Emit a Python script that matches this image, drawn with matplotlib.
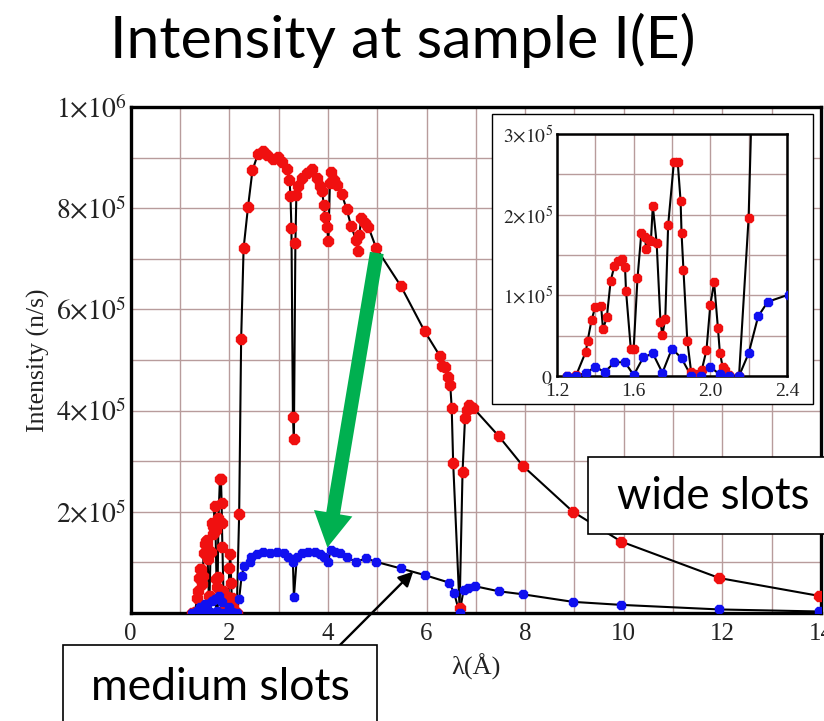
import numpy as np
import matplotlib
matplotlib.use("Agg")
import matplotlib.pyplot as plt
from matplotlib.patches import Rectangle, FancyArrowPatch, ArrowStyle
from matplotlib.ticker import FixedLocator, MultipleLocator, FuncFormatter

plt.rcParams["mathtext.fontset"] = "stix"

# Wavelength (Angstrom) and intensity (thousands of n/s) for the wide slots
wide_lambda = [1.25, 1.30, 1.35, 1.36, 1.38, 1.40, 1.43, 1.44, 1.46, 1.48, 1.50, 1.52, 1.54,
               1.555, 1.56, 1.585, 1.60, 1.62, 1.64, 1.66, 1.665, 1.68, 1.69, 1.70, 1.72,
               1.74, 1.75, 1.765, 1.78, 1.81, 1.83, 1.845, 1.85, 1.86, 1.88, 1.90, 1.93,
               1.955, 1.98, 2.00, 2.02, 2.04, 2.05, 2.065, 2.075, 2.10, 2.15, 2.20,
               2.24, 2.29, 2.38, 2.47, 2.58, 2.68, 2.76, 2.88, 2.98, 3.06, 3.18, 3.22,
               3.24, 3.26, 3.29, 3.31, 3.34, 3.36, 3.40, 3.47, 3.57, 3.68, 3.77, 3.84,
               3.88, 3.92, 3.94, 3.98, 4.01, 4.04, 4.06, 4.12, 4.19, 4.28, 4.38, 4.47,
               4.57, 4.60, 4.64, 4.67, 4.75, 4.82, 4.98, 5.48, 5.96, 6.27, 6.32, 6.38,
               6.43, 6.48, 6.51, 6.54, 6.67, 6.73, 6.78, 6.82, 6.87, 6.95, 7.46, 7.95,
               8.97, 9.95, 11.94, 13.95]
wide_kcounts = [0, 1, 30, 44, 69, 86, 87, 58, 73, 118, 137, 142, 145,
                135, 106, 34, 34, 121, 177, 172, 157, 169, 167, 211, 165,
                67, 51, 71, 187, 265, 265, 217, 177, 131, 44, 5, 3,
                7, 32, 88, 116, 59, 29, 11, 8, 1, 0, 196,
                541, 721, 803, 875, 907, 913, 905, 897, 902, 892, 877, 856,
                825, 760, 388, 344, 731, 827, 843, 860, 870, 877, 860, 843,
                833, 806, 783, 763, 735, 850, 872, 856, 846, 828, 798, 765,
                737, 716, 747, 780, 770, 763, 721, 646, 557, 508, 488, 487,
                467, 451, 406, 296, 10, 279, 385, 401, 412, 405, 350, 291,
                200, 141, 69, 34]

# Wavelength (Angstrom) and intensity (thousands of n/s) for the medium slots
medium_lambda = [1.25, 1.30, 1.35, 1.40, 1.45, 1.50, 1.555, 1.60, 1.65, 1.70, 1.75, 1.80,
                 1.85, 1.90, 1.95, 2.00, 2.05, 2.10, 2.15, 2.20, 2.25, 2.30, 2.41,
                 2.45, 2.56, 2.69, 2.83, 2.96, 3.10, 3.20, 3.29, 3.31, 3.37, 3.47, 3.60,
                 3.74, 3.84, 3.92, 4.00, 4.06, 4.14, 4.25, 4.38, 4.57, 4.77, 4.98, 5.48,
                 5.96, 6.46, 6.56, 6.67, 6.75, 6.85, 6.98, 7.46, 7.95, 8.97, 9.95,
                 11.94, 13.95]
medium_kcounts = [0, 0, 4, 11, 5, 17, 17, 1, 23, 28, 4, 34,
                  22, 0, 0, 11, 2, 0, 0, 28, 74, 92, 101,
                  110, 117, 121, 119, 121, 118, 111, 101, 31, 111, 118, 121,
                  121, 117, 110, 101, 125, 121, 118, 110, 101, 108, 101, 88,
                  75, 60, 39, 0, 45, 50, 53, 43, 37, 22, 16,
                  7, 3]

main_xticks = [0, 2, 4, 6, 8, 10, 12, 14]
main_yticks = [2e5, 4e5, 6e5, 8e5, 1e6]
inset_xticks = [1.2, 1.6, 2.0, 2.4]
inset_yticks = [0, 1e5, 2e5, 3e5]

wide_x = np.array(wide_lambda)
wide_y = np.array(wide_kcounts) * 1e3
medium_x = np.array(medium_lambda)
medium_y = np.array(medium_kcounts) * 1e3

GRID = "#b89c9c"
RED = "#f01010"
BLUE = "#1010f0"
SERIF = "Liberation Serif"
SANS = "Lato"


def sci_label(v, pos=None):
    if v == 0:
        return r"$0$"
    exp = int(np.floor(np.log10(v) + 1e-9))
    mant = int(round(v / 10 ** exp))
    return r"$%d{\times}10^{%d}$" % (mant, exp)


def draw_series(ax, ms_red, ms_blue):
    ax.plot(wide_x, wide_y, color="k", lw=1.5, zorder=3)
    ax.plot(wide_x, wide_y, ls="none", marker="8", ms=ms_red, color=RED, mec=RED, zorder=4)
    ax.plot(medium_x, medium_y, color="k", lw=1.5, zorder=3)
    ax.plot(medium_x, medium_y, ls="none", marker="8", ms=ms_blue, color=BLUE, mec=BLUE, zorder=4)


fig = plt.figure(figsize=(8.24, 7.21), dpi=100)

# Main panel
ax = fig.add_axes([0.1586, 0.1498, 0.8378, 0.7018])
draw_series(ax, 7.5, 6.2)
ax.set_xlim(0, 14)
ax.set_ylim(0, 1e6)
ax.xaxis.set_major_locator(FixedLocator(main_xticks))
ax.yaxis.set_major_locator(FixedLocator(main_yticks))
ax.xaxis.set_minor_locator(MultipleLocator(1))
ax.yaxis.set_minor_locator(MultipleLocator(1e5))
ax.yaxis.set_major_formatter(FuncFormatter(sci_label))
ax.grid(True, which="both", color=GRID, lw=1.0)
ax.set_axisbelow(True)
ax.tick_params(which="both", length=0)
ax.tick_params(axis="x", pad=7, labelsize=18, labelcolor="#222222")
ax.tick_params(axis="y", pad=3, labelsize=20, labelcolor="#222222")
for lab in ax.get_xticklabels():
    lab.set_fontfamily(SERIF)
for sp in ax.spines.values():
    sp.set_linewidth(2.4)
ax.set_ylabel("Intensity (n/s)", fontsize=18.5, fontfamily=SERIF, color="#222222", labelpad=4)
fig.text(0.578, 0.075, "λ(Å)", fontsize=19, fontfamily=SERIF, color="#222222",
         ha="center", va="center")

# Arrow from the wide-slot curve down to the medium-slot curve
green = FancyArrowPatch((5.0, 7.17e5), (3.98, 1.24e5),
                        arrowstyle=ArrowStyle.Simple(head_length=25, head_width=28, tail_width=10),
                        mutation_scale=1, color="#00b050", lw=0, zorder=6)
ax.add_patch(green)

# Pointer from the medium-slots label to its curve
ax.annotate("", xy=(5.73, 0.82e5), xycoords="data",
            xytext=(0.4126, 0.1054), textcoords="figure fraction",
            arrowprops=dict(arrowstyle="-|>", color="k", lw=1.7, mutation_scale=22,
                            shrinkA=0, shrinkB=0),
            annotation_clip=False, zorder=6)

# Inset frame and inset panel
frame = Rectangle((0.597, 0.4397), 0.3897, 0.4022, transform=fig.transFigure,
                  facecolor="white", edgecolor="k", lw=1.0, zorder=2)
fig.add_artist(frame)

axin = fig.add_axes([0.676, 0.4785, 0.279, 0.3356], zorder=3)
draw_series(axin, 7.0, 5.8)
axin.set_xlim(1.2, 2.4)
axin.set_ylim(0, 3e5)
axin.xaxis.set_major_locator(FixedLocator(inset_xticks))
axin.yaxis.set_major_locator(FixedLocator(inset_yticks))
axin.xaxis.set_minor_locator(MultipleLocator(0.2))
axin.yaxis.set_minor_locator(MultipleLocator(0.5e5))
axin.yaxis.set_major_formatter(FuncFormatter(sci_label))
axin.xaxis.set_major_formatter(FuncFormatter(lambda v, p: "%.1f" % v))
axin.grid(True, which="both", color=GRID, lw=1.0)
axin.set_axisbelow(True)
axin.tick_params(which="both", length=0)
axin.tick_params(axis="x", pad=5, labelsize=14, labelcolor="#222222")
axin.tick_params(axis="y", pad=3, labelsize=14, labelcolor="#222222")
for lab in axin.get_xticklabels():
    lab.set_fontfamily(SERIF)
for sp in axin.spines.values():
    sp.set_linewidth(1.8)

# Label boxes
wide_box = Rectangle((0.7136, 0.2594), 0.30, 0.1068, transform=fig.transFigure,
                     facecolor="white", edgecolor="k", lw=1.2, zorder=5)
fig.add_artist(wide_box)
fig.text(0.866, 0.312, "wide slots", fontsize=31.5, fontfamily=SANS, ha="center",
         va="center", zorder=7)

medium_box = Rectangle((0.0764, -0.05), 0.381, 0.1554, transform=fig.transFigure,
                       facecolor="white", edgecolor="k", lw=1.2, zorder=5)
fig.add_artist(medium_box)
fig.text(0.267, 0.046, "medium slots", fontsize=32, fontfamily=SANS, ha="center",
         va="center", zorder=7)

fig.text(0.489, 0.944, "Intensity at sample I(E)", fontsize=42.5, fontfamily=SANS,
         ha="center", va="center")

fig.savefig("out.png", dpi=100)
